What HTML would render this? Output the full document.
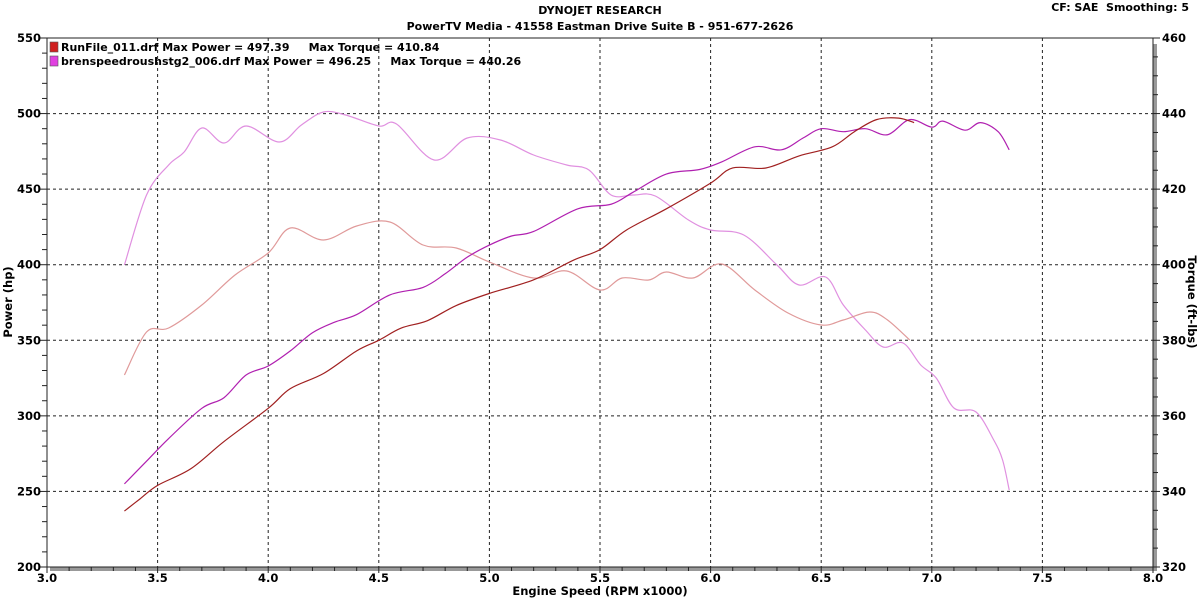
<!DOCTYPE html>
<html><head><meta charset="utf-8"><style>
html,body{margin:0;padding:0;background:#fff;}
svg{display:block;font-family:"DejaVu Sans","Liberation Sans",sans-serif;}
text{white-space:pre;}
</style></head><body>
<svg id="c" width="1200" height="599" viewBox="0 0 1200 599" xmlns="http://www.w3.org/2000/svg">
<rect width="1200" height="599" fill="#fff"/>
<text x="600" y="14" font-size="11" font-weight="bold" text-anchor="middle">DYNOJET RESEARCH</text>
<text x="600" y="30" font-size="11" font-weight="bold" text-anchor="middle">PowerTV Media - 41558 Eastman Drive Suite B - 951-677-2626</text>
<text x="1189" y="11" font-size="11" font-weight="bold" text-anchor="end" xml:space="preserve">CF: SAE  Smoothing: 5</text>
<rect x="1153" y="44" width="4" height="526" fill="#999"/>
<rect x="50" y="567" width="1107" height="4" fill="#999"/>
<rect x="47" y="38" width="1106" height="529" fill="none" stroke="#222" stroke-width="1"/>
<g id="grid"></g>
<g id="curves" fill="none" stroke-width="1.2" stroke-linejoin="round"></g>
<rect x="50" y="42" width="8" height="10" fill="#d02020" stroke="#555" stroke-width="0.6"/>
<rect x="50" y="56" width="8" height="10" fill="#e040e0" stroke="#555" stroke-width="0.6"/>
<text x="61" y="51" font-size="11" font-weight="bold" xml:space="preserve">RunFile_011.drf Max Power = 497.39     Max Torque = 410.84</text>
<text x="61" y="65" font-size="11" font-weight="bold" xml:space="preserve">brenspeedroushstg2_006.drf Max Power = 496.25     Max Torque = 440.26</text>
<text x="600" y="595" font-size="11.5" font-weight="bold" text-anchor="middle">Engine Speed (RPM x1000)</text>
<text transform="translate(12,302) rotate(-90)" font-size="11.5" font-weight="bold" text-anchor="middle">Power (hp)</text>
<text transform="translate(1188,302) rotate(90)" font-size="11.5" font-weight="bold" text-anchor="middle">Torque (ft-lbs)</text>
</svg>
<script>
const NS="http://www.w3.org/2000/svg";
const X=r=>47+(r-3)*221.2, YP=h=>567-(h-200)*529/350;
const g=document.getElementById('grid'), cv=document.getElementById('curves');
function el(t,a,p,txt){const e=document.createElementNS(NS,t);for(const k in a)e.setAttribute(k,a[k]);if(txt!=null)e.textContent=txt;p.appendChild(e);return e;}
for(let r=3.5;r<8;r+=0.5){el('line',{x1:X(r),x2:X(r),y1:38,y2:567,stroke:'#222','stroke-dasharray':'3,3','stroke-width':1},g);}
for(let h=250;h<550;h+=50){el('line',{x1:47,x2:1153,y1:YP(h),y2:YP(h),stroke:'#222','stroke-dasharray':'3,3','stroke-width':1},g);}
for(let h=200;h<=550;h+=10){el('line',{x1:h%50?42:40,x2:47,y1:YP(h),y2:YP(h),stroke:'#222'},g);}
for(let h=200;h<=550;h+=50){el('text',{x:41,y:YP(h)+4,'font-size':11.5,'font-weight':'bold','text-anchor':'end'},g,h);}
for(let t=320;t<=460;t+=5){const y=567-(t-320)*529/140;el('line',{x1:1153,x2:t%20?1158:1160,y1:y,y2:y,stroke:'#222'},g);}
for(let t=320;t<=460;t+=20){const y=567-(t-320)*529/140;el('text',{x:1162,y:y+4,'font-size':11.5,'font-weight':'bold'},g,t);}
for(let i=0;i<=50;i++){const x=X(3+i*0.1);el('line',{x1:x,x2:x,y1:567,y2:i%5?571:573,stroke:'#222'},g);}
for(let r=3;r<=8.01;r+=0.5){el('text',{x:X(r),y:582,'font-size':11.5,'font-weight':'bold','text-anchor':'middle'},g,r.toFixed(1));}
function path(pts,conv,col){
 const P=pts.map(p=>[X(p[0]),conv(p[1])]);
 let d='M'+P[0][0]+','+P[0][1];
 for(let i=0;i<P.length-1;i++){const p0=P[Math.max(0,i-1)],p1=P[i],p2=P[i+1],p3=P[Math.min(P.length-1,i+2)];
  d+=' C'+(p1[0]+(p2[0]-p0[0])/6)+','+(p1[1]+(p2[1]-p0[1])/6)+' '+(p2[0]-(p3[0]-p1[0])/6)+','+(p2[1]-(p3[1]-p1[1])/6)+' '+p2[0]+','+p2[1];}
 el('path',{d:d,stroke:col},cv);}
const id=v=>v;
path([[3.35,265],[3.45,195],[3.55,165],[3.62,152],[3.7,128],[3.8,143],[3.9,126],[4.05,142],[4.15,125],[4.25,112],[4.35,115],[4.5,126],[4.58,124],[4.75,160],[4.9,138],[5.05,140],[5.2,155],[5.35,165],[5.45,170],[5.55,195],[5.65,195],[5.75,196],[5.9,220],[6.0,230],[6.15,235],[6.3,265],[6.4,285],[6.52,277],[6.6,305],[6.7,330],[6.78,347],[6.87,343],[6.95,365],[7.02,378],[7.1,408],[7.2,412],[7.28,440],[7.32,460],[7.35,490]],id,'#e090e0');
path([[3.35,375],[3.45,332],[3.55,328],[3.7,305],[3.85,275],[4.0,253],[4.1,228],[4.25,240],[4.4,226],[4.55,222],[4.7,245],[4.85,248],[5.0,262],[5.2,278],[5.35,271],[5.5,290],[5.6,278],[5.72,280],[5.8,272],[5.92,278],[6.05,264],[6.2,290],[6.35,313],[6.5,325],[6.6,320],[6.72,312],[6.8,320],[6.9,340]],id,'#e09a9a');
path([[3.35,255],[3.45,270],[3.55,285],[3.7,305],[3.8,312],[3.9,327],[4.0,333],[4.1,343],[4.2,355],[4.3,362],[4.4,367],[4.55,380],[4.7,385],[4.8,394],[4.9,405],[5.0,413],[5.1,419],[5.2,422],[5.4,437],[5.55,440],[5.65,448],[5.8,460],[5.95,463],[6.05,468],[6.2,478],[6.32,476],[6.42,484],[6.5,490],[6.6,488],[6.7,490],[6.8,486],[6.9,496],[7.0,491],[7.05,495],[7.15,489],[7.22,494],[7.3,488],[7.35,476]],YP,'#b020b0');
path([[3.35,237],[3.42,245],[3.5,254],[3.65,265],[3.8,283],[4.0,305],[4.1,318],[4.25,328],[4.4,343],[4.5,350],[4.6,358],[4.72,363],[4.85,373],[5.0,381],[5.2,390],[5.38,403],[5.5,410],[5.62,423],[5.8,437],[6.0,454],[6.1,464],[6.25,464],[6.4,472],[6.55,478],[6.65,488],[6.75,496],[6.85,497],[6.92,494]],YP,'#a02020');
</script>
</body></html>
